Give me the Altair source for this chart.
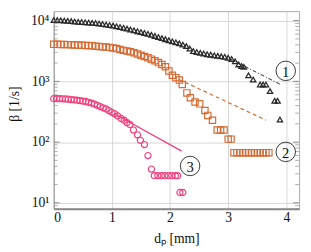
import altair as alt
import pandas as pd

# ---- data ----
tri_x = [0.00, 0.06, 0.12, 0.18, 0.24, 0.30, 0.36, 0.42, 0.48, 0.54, 0.60, 0.66, 0.72, 0.78, 0.84,
         0.90, 0.96, 1.02, 1.08, 1.14, 1.20, 1.26, 1.32, 1.38, 1.44, 1.50, 1.56, 1.62, 1.68, 1.74,
         1.80, 1.86, 1.92, 1.98, 2.04, 2.10, 2.16, 2.22, 2.28, 2.34, 2.40, 2.46, 2.52, 2.58, 2.64,
         2.70, 2.76, 2.82, 2.88, 2.94, 3.00, 3.06, 3.12, 3.18, 3.23, 3.27, 3.35, 3.43, 3.55, 3.60,
         3.65, 3.72, 3.80, 3.85, 3.89]
tri_y = [10230, 10200, 10100, 10050, 9900, 9800, 9680, 9550, 9500, 9380, 9300, 9180, 9120, 8960, 8810,
         8610, 8450, 8280, 8050, 7850, 7620, 7380, 7160, 6920, 6700, 6490, 6270, 6070, 5820, 5600,
         5370, 5150, 4950, 4760, 4570, 4400, 4220, 4030, 3800, 3470, 3160, 3050, 2960, 2880, 2800,
         2750, 2690, 2630, 2580, 2540, 2450, 2340, 2140, 1900, 1780, 1740, 1260, 1070, 890, 890,
         890, 690, 480, 480, 235]

sq_x = [0.00, 0.06, 0.12, 0.18, 0.24, 0.30, 0.36, 0.42, 0.48, 0.54, 0.60, 0.66, 0.72, 0.78, 0.84,
        0.90, 0.96, 1.02, 1.08, 1.14, 1.20, 1.26, 1.32, 1.38, 1.44, 1.50, 1.56, 1.62, 1.68, 1.74,
        1.80, 1.86, 1.92, 1.98, 2.04, 2.10, 2.16, 2.21, 2.29, 2.35, 2.43, 2.51, 2.60, 2.65, 2.73,
        2.81, 2.87, 2.93, 3.00, 3.05, 3.10, 3.15, 3.20, 3.25, 3.30, 3.35, 3.40, 3.45, 3.50, 3.55,
        3.60, 3.65, 3.70]
sq_y = [4070, 4070, 4060, 4050, 4030, 4010, 3980, 3960, 3940, 3910, 3890, 3850, 3800, 3760, 3720,
        3670, 3630, 3550, 3470, 3350, 3240, 3160, 3080, 2950, 2820, 2690, 2570, 2450, 2320, 2190,
        2040, 1900, 1740, 1480, 1260, 1150, 1050, 890, 645, 537, 457, 427, 331, 275, 229,
        158, 158, 158, 112, 112, 67, 67, 67, 67, 67, 67, 67, 67, 67, 67,
        67, 67, 67]

circ_x = [0.00, 0.05, 0.10, 0.15, 0.20, 0.25, 0.30, 0.35, 0.40, 0.45, 0.50, 0.55, 0.60, 0.65, 0.70,
          0.75, 0.80, 0.85, 0.90, 0.95, 1.00, 1.05, 1.10, 1.16, 1.21, 1.26, 1.31, 1.37, 1.44, 1.49,
          1.56, 1.62, 1.68, 1.73, 1.79, 1.85, 1.91, 1.97, 2.03, 2.09, 2.13, 2.17, 2.22]
circ_y = [520, 520, 519, 516, 513, 508, 501, 495, 490, 482, 473, 466, 452, 437, 422,
          403, 385, 367, 351, 331, 309, 292, 269, 245, 229, 209, 195, 158, 132, 107,
          91, 60, 36, 28, 28, 28, 28, 28, 28, 28, 28, 14.8, 14.8]

fit1_x = [3.02, 3.90]
fit1_y = [2370, 890]
fit2_x = [2.15, 3.65]
fit2_y = [1080, 230]
fit3_x = [1.05, 2.20]
fit3_y = [290, 71]

lab_x = [3.99, 3.99, 2.345]
lab_y = [1490, 69, 40.5]
lab_t = ["1", "2", "3"]

major_y = [10, 100, 1000, 10000]
minor_y = [8, 9, 20, 30, 40, 50, 60, 70, 80, 90, 200, 300, 400, 500, 600, 700, 800, 900,
           2000, 3000, 4000, 5000, 6000, 7000, 8000, 9000]

BLACK = "#2a2a2a"
ORANGE = "#d66a32"
PINK = "#f23d7a"
FONT = "Liberation Serif"

xs = alt.Scale(domain=[0, 4.22], nice=False, zero=False)
ys = alt.Scale(type="log", domain=[7.98, 14330], nice=False)

xax = alt.Axis(values=[0, 1, 2, 3, 4], format="d", tickSize=0, labelPadding=2,
               labelFont=FONT, labelFontSize=14, labelColor="#111",
               title="dₚ [mm]", titleFont=FONT, titleFontSize=14, titleFontWeight="normal",
               titleColor="#111", titleX=126, titleY=31, titleBaseline="middle",
               domainColor="#888", domainWidth=2, gridColor="#d6d6d6")
yax = alt.Axis(values=major_y, tickSize=0, labelPadding=5,
               labelExpr="'10' + (datum.value == 10 ? '¹' : datum.value == 100 ? '²' : datum.value == 1000 ? '³' : '⁴')",
               labelFont=FONT, labelFontSize=14, labelColor="#111",
               title="β [1/s]", titleFont=FONT, titleFontSize=14, titleFontWeight="normal",
               titleColor="#111", titleX=-40, titleY=95, titleAngle=270,
               titleAlign="center", titleBaseline="middle",
               domainColor="#999", gridColor="#d6d6d6")

tri = pd.DataFrame({"x": tri_x, "y": tri_y})
sq = pd.DataFrame({"x": sq_x, "y": sq_y})
ci = pd.DataFrame({"x": circ_x, "y": circ_y})

base_tri = alt.Chart(tri).mark_point(shape="triangle-up", filled=False, color=BLACK, size=30,
                                     strokeWidth=1.3, opacity=1).encode(
    x=alt.X("x:Q", scale=xs, axis=xax), y=alt.Y("y:Q", scale=ys, axis=yax))
base_sq = alt.Chart(sq).mark_point(shape="square", filled=False, color=ORANGE, size=42,
                                   strokeWidth=1.2, opacity=1).encode(
    x=alt.X("x:Q", scale=xs), y=alt.Y("y:Q", scale=ys))
base_ci = alt.Chart(ci).mark_point(shape="circle", filled=False, color=PINK, size=40,
                                   strokeWidth=1.2, opacity=1).encode(
    x=alt.X("x:Q", scale=xs), y=alt.Y("y:Q", scale=ys))

f1 = alt.Chart(pd.DataFrame({"x": fit1_x, "y": fit1_y})).mark_line(
    color=BLACK, strokeWidth=1, strokeDash=[4, 2, 1, 2]).encode(
    x=alt.X("x:Q", scale=xs), y=alt.Y("y:Q", scale=ys))
f2 = alt.Chart(pd.DataFrame({"x": fit2_x, "y": fit2_y})).mark_line(
    color=ORANGE, strokeWidth=1.2, strokeDash=[4, 3]).encode(
    x=alt.X("x:Q", scale=xs), y=alt.Y("y:Q", scale=ys))
f3 = alt.Chart(pd.DataFrame({"x": fit3_x, "y": fit3_y})).mark_line(
    color=PINK, strokeWidth=1.3).encode(
    x=alt.X("x:Q", scale=xs), y=alt.Y("y:Q", scale=ys))

labdf = pd.DataFrame({"x": lab_x, "y": lab_y, "t": lab_t})
lab_c = alt.Chart(labdf).mark_point(shape="circle", filled=False, color="#222", size=400,
                                    strokeWidth=0.9, opacity=1).encode(
    x=alt.X("x:Q", scale=xs), y=alt.Y("y:Q", scale=ys))
lab_t_ = alt.Chart(labdf).mark_text(font=FONT, fontSize=15, color="#111", baseline="middle",
                                    dy=1).encode(
    x=alt.X("x:Q", scale=xs), y=alt.Y("y:Q", scale=ys), text="t:N")

mt = pd.DataFrame({"y": minor_y})
mj = pd.DataFrame({"y": major_y})
tl_minor = alt.Chart(mt).mark_rule(color="#999", strokeWidth=0.8).encode(
    y=alt.Y("y:Q", scale=ys), x=alt.value(0), x2=alt.value(4))
tr_minor = alt.Chart(mt).mark_rule(color="#999", strokeWidth=0.8).encode(
    y=alt.Y("y:Q", scale=ys), x=alt.value(248), x2=alt.value(252))
tl_major = alt.Chart(mj).mark_rule(color="#888", strokeWidth=1).encode(
    y=alt.Y("y:Q", scale=ys), x=alt.value(0), x2=alt.value(6))
tr_major = alt.Chart(mj).mark_rule(color="#888", strokeWidth=1).encode(
    y=alt.Y("y:Q", scale=ys), x=alt.value(246), x2=alt.value(252))

chart = alt.layer(
    base_tri, tl_minor, tr_minor, tl_major, tr_major,
    f1, f2, f3, base_sq, base_ci, lab_c, lab_t_
).properties(
    width=252, height=203,
    autosize=alt.AutoSizeParams(type="none"),
    padding={"left": 47, "top": 0, "right": 4, "bottom": 36},
    background="white",
).configure_view(stroke="#aaaaaa", strokeWidth=1).configure_text(font=FONT).configure_axis(
    labelFont=FONT, titleFont=FONT)

chart.save("out.html", embed_options={"renderer": "svg", "actions": False})
